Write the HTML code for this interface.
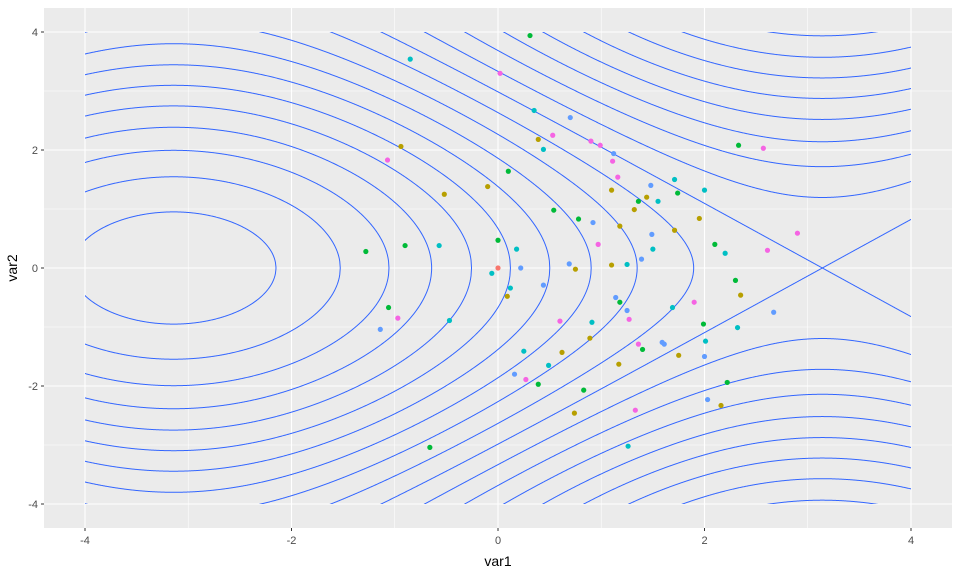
<!DOCTYPE html>
<html><head><meta charset="utf-8"><style>
html,body{margin:0;padding:0;background:#fff;width:960px;height:576px;overflow:hidden;}
svg{display:block;font-family:"Liberation Sans",sans-serif;}
</style></head><body>
<svg id="chart" width="960" height="576" viewBox="0 0 960 576" xmlns="http://www.w3.org/2000/svg">
<defs><clipPath id="dataClip"><rect x="85" y="32" width="826" height="472"/></clipPath></defs>
<rect x="44" y="8" width="908" height="520" fill="#EBEBEB"/>
<g id="grid"></g>
<g id="contours" clip-path="url(#dataClip)"></g>
<g id="points"></g>
<g id="axes"></g>
<text x="498" y="566" text-anchor="middle" font-size="14" fill="#000">var1</text>
<text x="0" y="0" transform="translate(17,268) rotate(-90)" text-anchor="middle" font-size="14" fill="#000">var2</text>
</svg>
<script>
const xTicks = [-4, -2, 0, 2, 4];
const yTicks = [-4, -2, 0, 2, 4];
const xMinor = [-3, -1, 1, 3];
const yMinor = [-3, -1, 1, 3];
const contourLevels = [-10.45, -9.45, -8.45, -7.45, -6.45, -5.45, -4.45, -3.45, -2.45, -1.45, -0.45, 0.55, 1.55, 2.55, 3.55, 4.55, 5.55, 6.55, 7.55];
const ptX = [0.31,-0.85,0.02,0.35,0.70,0.53,0.39,0.44,-0.94,-1.07,0.10,-0.10,-0.52,0.54,0.78,-1.28,-0.90,-0.57,0.00,0.18,0.69,-0.06,0.00,0.22,0.75,0.12,0.44,0.09,-1.06,-0.97,-1.14,-0.47,0.60,0.89,0.25,0.62,0.49,0.16,0.27,0.39,0.83,0.74,-0.66,0.90,0.99,1.12,1.11,1.16,1.10,1.48,1.71,1.74,2.00,2.33,2.57,1.36,1.44,1.55,1.32,1.95,0.92,1.18,1.71,1.49,2.90,2.10,2.20,2.61,0.97,1.50,1.39,1.25,1.10,2.30,2.35,1.14,1.18,1.90,1.69,1.25,1.27,0.91,1.99,2.32,2.67,1.36,1.40,1.59,1.61,2.01,1.75,2.00,1.17,2.22,2.03,2.16,1.33,1.26];
const ptY = [3.94,3.54,3.30,2.67,2.55,2.25,2.18,2.01,2.06,1.83,1.64,1.38,1.25,0.98,0.83,0.28,0.38,0.38,0.47,0.32,0.07,-0.09,0.00,0.00,-0.02,-0.34,-0.29,-0.48,-0.67,-0.85,-1.04,-0.89,-0.90,-1.19,-1.41,-1.43,-1.65,-1.80,-1.89,-1.97,-2.07,-2.46,-3.04,2.15,2.08,1.94,1.81,1.54,1.32,1.40,1.50,1.27,1.32,2.08,2.03,1.13,1.20,1.13,0.99,0.84,0.77,0.71,0.64,0.57,0.59,0.40,0.25,0.30,0.40,0.32,0.15,0.06,0.05,-0.21,-0.46,-0.50,-0.58,-0.58,-0.67,-0.72,-0.87,-0.92,-0.95,-1.01,-0.75,-1.29,-1.38,-1.26,-1.29,-1.24,-1.48,-1.50,-1.63,-1.94,-2.23,-2.33,-2.41,-3.02];
const ptGroup = ["G","T","P","T","B","P","O","T","O","P","G","O","O","G","G","G","G","T","G","T","B","T","R","B","O","T","B","O","G","P","B","T","P","O","T","O","T","B","P","G","G","O","G","P","P","B","P","P","O","B","T","G","T","G","P","G","O","T","O","O","B","O","O","B","P","G","T","P","P","T","B","T","O","G","O","B","G","P","T","B","P","T","G","T","B","P","G","B","B","T","O","B","O","G","B","O","P","T"];
const groupColors = {R:"#F8766D",O:"#B79F00",G:"#00BA38",T:"#00BFC4",B:"#619CFF",P:"#F564E3"};

const NS = "http://www.w3.org/2000/svg";
const sx = x => 498 + x * 103.25;
const sy = y => 268 - y * 59;
const A = 5.32, B = 5.77;

const grid = document.getElementById('grid');
function line(parent, x1, y1, x2, y2, stroke, w) {
  const l = document.createElementNS(NS, 'line');
  l.setAttribute('x1', x1); l.setAttribute('y1', y1);
  l.setAttribute('x2', x2); l.setAttribute('y2', y2);
  l.setAttribute('stroke', stroke); l.setAttribute('stroke-width', w);
  parent.appendChild(l);
  return l;
}
xMinor.forEach(v => {
  const l = line(grid, sx(v), 8, sx(v), 528, '#fff', 0.55);
  
  
});
yMinor.forEach(v => {
  const l = line(grid, 44, sy(v), 952, sy(v), '#fff', 0.55);
  
  
});
xTicks.forEach(v => {
  const l = line(grid, sx(v), 8, sx(v), 528, '#fff', 1.1);
  
  
});
yTicks.forEach(v => {
  const l = line(grid, 44, sy(v), 952, sy(v), '#fff', 1.1);
  
  
});

const cont = document.getElementById('contours');
function argOf(x, c) { return (A * Math.sin(x / 2) - c) / B; }
function bisect(xa, xb, c) {
  for (let i = 0; i < 40; i++) {
    const m = (xa + xb) / 2;
    const ga = argOf(xa, c) - 1, gm = argOf(m, c) - 1;
    if ((ga > 0) === (gm > 0)) xa = m; else xb = m;
  }
  return (xa + xb) / 2;
}
contourLevels.forEach(c => {
  const N = 1600, x0 = -4.02, x1 = 4.02;
  let runs = [], cur = null, prevX = null, prevValid = false;
  for (let i = 0; i <= N; i++) {
    const x = x0 + (x1 - x0) * i / N;
    const a = argOf(x, c);
    const valid = a >= -1 && a <= 1;
    if (valid && !prevValid) {
      cur = [];
      if (prevX !== null && argOf(prevX, c) > 1) cur.push([bisect(prevX, x, c), 1]);
      runs.push(cur);
    }
    if (valid) cur.push([x, a]);
    if (!valid && prevValid && a > 1) cur.push([bisect(prevX, x, c), 1]);
    prevValid = valid; prevX = x;
  }
  runs.forEach(run => {
    [1, -1].forEach(sgn => {
      let d = '';
      run.forEach((p, j) => {
        let y = sgn * 2 * Math.acos(Math.max(-1, Math.min(1, p[1])));
        y = Math.max(-4.3, Math.min(4.3, y));
        d += (j ? 'L' : 'M') + sx(p[0]).toFixed(2) + ',' + sy(y).toFixed(2);
      });
      const path = document.createElementNS(NS, 'path');
      path.setAttribute('d', d);
      path.setAttribute('fill', 'none');
      path.setAttribute('stroke', '#3366FF');
      path.setAttribute('stroke-width', '1');
      
      
      cont.appendChild(path);
    });
  });
});

const pts = document.getElementById('points');
ptX.forEach((x, i) => {
  const ci = document.createElementNS(NS, 'circle');
  ci.setAttribute('cx', sx(x)); ci.setAttribute('cy', sy(ptY[i]));
  ci.setAttribute('r', 2.6);
  ci.setAttribute('fill', groupColors[ptGroup[i]] || '#619CFF');
  
  
  pts.appendChild(ci);
});

const axes = document.getElementById('axes');
xTicks.forEach(v => {
  const t = line(axes, sx(v), 528, sx(v), 531, '#333', 1);
  
  
  const tx = document.createElementNS(NS, 'text');
  tx.setAttribute('x', sx(v)); tx.setAttribute('y', 544);
  tx.setAttribute('text-anchor', 'middle'); tx.setAttribute('font-size', '11');
  tx.setAttribute('fill', '#4D4D4D');
  tx.textContent = v;
  
  
  axes.appendChild(tx);
});
yTicks.forEach(v => {
  const t = line(axes, 41, sy(v), 44, sy(v), '#333', 1);
  
  
  const tx = document.createElementNS(NS, 'text');
  tx.setAttribute('x', 38); tx.setAttribute('y', sy(v) + 4);
  tx.setAttribute('text-anchor', 'end'); tx.setAttribute('font-size', '11');
  tx.setAttribute('fill', '#4D4D4D');
  tx.textContent = v;
  
  
  axes.appendChild(tx);
});
</script>
</body></html>
